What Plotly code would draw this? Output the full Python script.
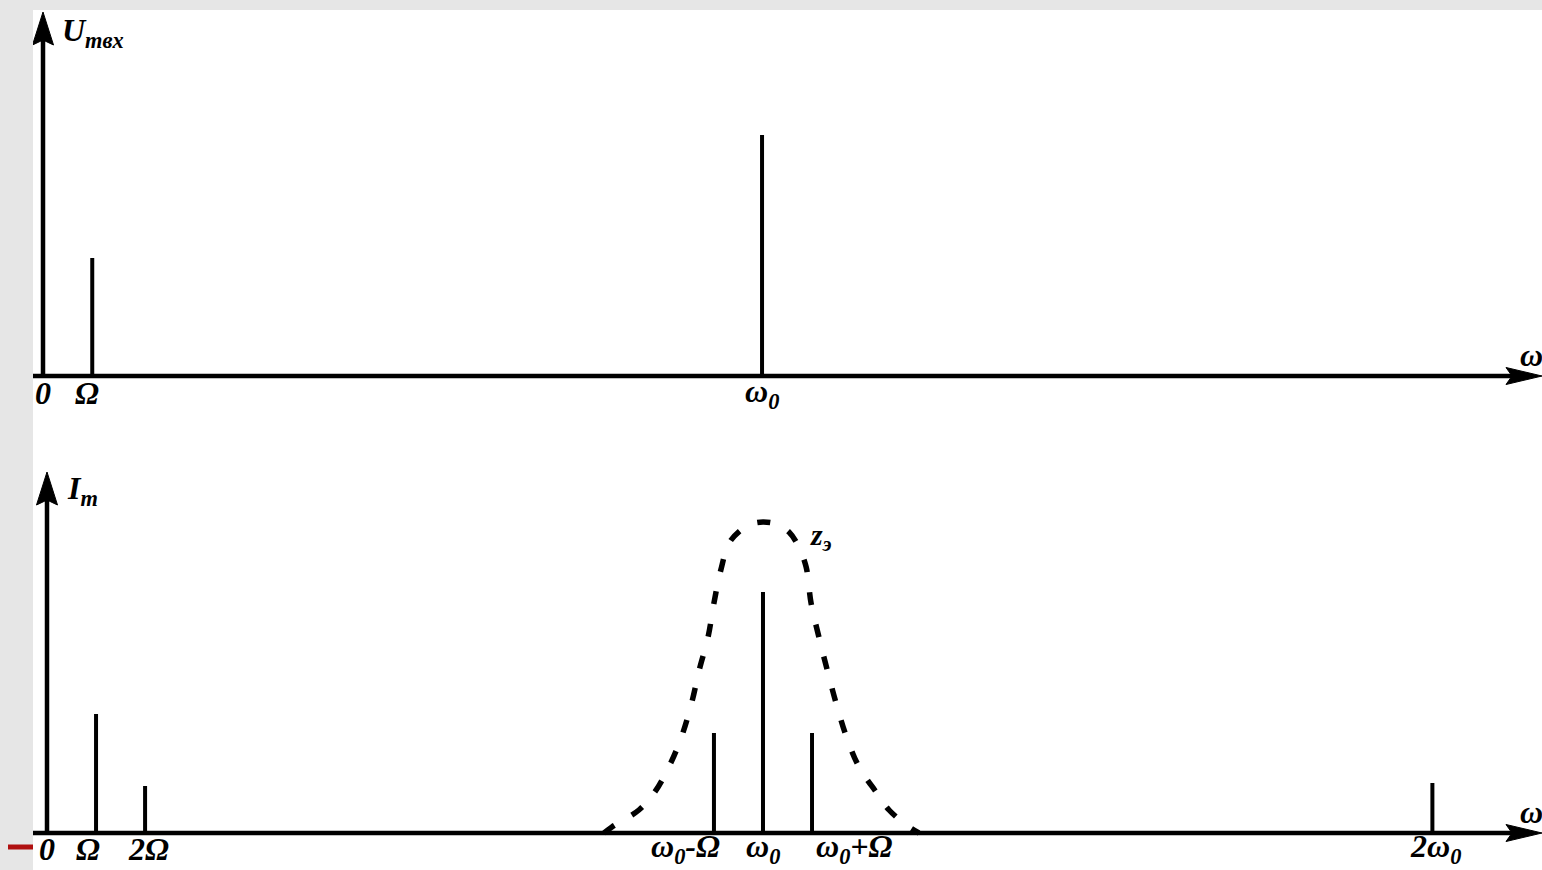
import plotly.graph_objects as go

# ---------------------------------------------------------------------------
# Data (frequencies in units of the modulating frequency Ω, amplitudes in
# arbitrary units)
# ---------------------------------------------------------------------------

# Input voltage spectrum U_mвx
top_freqs = [1.0, 14.6]                 # Ω, ω0
top_amps = [1.18, 2.41]
top_label_pos = [0.0, 1.0, 14.6]
top_labels = ["0", "Ω", "ω<sub>0</sub>"]

# Output current spectrum I_m
bot_freqs = [1.0, 2.0, 13.6, 14.6, 15.6, 28.25]   # Ω, 2Ω, ω0-Ω, ω0, ω0+Ω, 2ω0
bot_amps = [1.19, 0.47, 1.00, 2.41, 1.00, 0.50]
bot_label_pos = [0.0, 1.0, 2.0, 13.6, 14.6, 15.6, 28.25]
bot_labels = ["0", "Ω", "2Ω", "ω<sub>0</sub>-Ω", "ω<sub>0</sub>",
              "ω<sub>0</sub>+Ω", "2ω<sub>0</sub>"]

# Resonance curve of the tank circuit z_э(ω)
curve_w = [11.36, 11.52, 12.07, 12.38, 12.68, 12.93, 13.15, 13.30, 13.48,
           13.60, 13.74, 13.91, 14.15, 14.36, 14.60, 14.87, 15.13, 15.33,
           15.48, 15.58, 15.74, 15.91, 16.09, 16.31, 16.56, 16.92, 17.17,
           17.58, 17.78]
curve_z = [0.00, 0.06, 0.23, 0.40, 0.66, 0.95, 1.31, 1.63, 1.96,
           2.30, 2.63, 2.90, 3.03, 3.09, 3.11, 3.09, 3.01, 2.86,
           2.66, 2.30, 1.96, 1.63, 1.30, 0.95, 0.66, 0.40, 0.23,
           0.06, 0.00]

# ---------------------------------------------------------------------------
# Geometry
# ---------------------------------------------------------------------------
W, H = 1542, 870
PX0, PY_TOP = 33, 10                   # white drawing area starts here
AREA_W, AREA_H = W - PX0, H - PY_TOP

top_xr = [-0.203, 30.437]
top_yr = [-4.94, 3.66]
bot_xr = [-0.2855, 30.485]
bot_yr = [-0.37, 8.23]

FONT = "Liberation Serif, Times New Roman, serif"
INK = "black"


def stems(freqs, amps):
    xs, ys = [], []
    for f, a in zip(freqs, amps):
        xs += [f, f, None]
        ys += [0, a, None]
    return xs, ys


def axis_shapes(xref, yref, xr, yr, v_tip):
    """Arrowed abscissa and ordinate drawn in the panel's own data units."""
    ux = (xr[1] - xr[0]) / AREA_W
    uy = (yr[1] - yr[0]) / AREA_H
    h_tip = xr[1]
    shp = []
    # horizontal axis
    shp.append(dict(type="line", xref=xref, yref=yref, x0=xr[0], x1=h_tip - 28 * ux,
                    y0=0, y1=0, line=dict(color=INK, width=4.5)))
    shp.append(dict(type="path", xref=xref, yref=yref, fillcolor=INK,
                    line=dict(color=INK, width=1),
                    path=(f"M{h_tip},0 L{h_tip - 36 * ux},{8.5 * uy} "
                          f"L{h_tip - 30 * ux},0 L{h_tip - 36 * ux},{-8.5 * uy} Z")))
    # vertical axis
    shp.append(dict(type="line", xref=xref, yref=yref, x0=0, x1=0,
                    y0=-2 * uy, y1=v_tip - 26 * uy, line=dict(color=INK, width=4.5)))
    shp.append(dict(type="path", xref=xref, yref=yref, fillcolor=INK,
                    line=dict(color=INK, width=1),
                    path=(f"M0,{v_tip} L{10.5 * ux},{v_tip - 33 * uy} "
                          f"L0,{v_tip - 28 * uy} L{-10.5 * ux},{v_tip - 33 * uy} Z")))
    return shp


def txt(s):
    return f"<b><i>{s}</i></b>"


fig = go.Figure()

tx, ty = stems(top_freqs, top_amps)
fig.add_trace(go.Scatter(x=tx, y=ty, mode="lines", xaxis="x", yaxis="y",
                         line=dict(color=INK, width=4), hoverinfo="skip"))

bx, by = stems(bot_freqs, bot_amps)
fig.add_trace(go.Scatter(x=bx, y=by, mode="lines", xaxis="x2", yaxis="y2",
                         line=dict(color=INK, width=4), hoverinfo="skip"))

fig.add_trace(go.Scatter(x=curve_w, y=curve_z, mode="lines", xaxis="x2", yaxis="y2",
                         line=dict(color=INK, width=5.5, dash="13px,20px", shape="spline"),
                         hoverinfo="skip"))

shapes = []
shapes += axis_shapes("x", "y", top_xr, top_yr, 3.64)
shapes += axis_shapes("x2", "y2", bot_xr, bot_yr, 3.61)
# small red marker at the left edge
shapes.append(dict(type="line", xref="paper", yref="paper",
                   x0=8 / W, x1=PX0 / W, y0=(H - 847) / H, y1=(H - 847) / H,
                   line=dict(color="#b01010", width=5)))

annotations = []
lab_font = dict(family=FONT, size=32, color=INK)

# top tick labels
top_shift = [0, -5, 0]
for p, s, dx in zip(top_label_pos, top_labels, top_shift):
    annotations.append(dict(x=p, y=-0.17, xref="x", yref="y", text=txt(s),
                            showarrow=False, xanchor="center", yanchor="middle",
                            xshift=dx, font=lab_font))

# bottom tick labels
bot_anchor = ["center", "center", "center", "right", "center", "left", "center"]
bot_shift = [0, -8, 3, 8, 0, 2, 3]
for p, s, a, dx in zip(bot_label_pos, bot_labels, bot_anchor, bot_shift):
    annotations.append(dict(x=p, y=-0.155, xref="x2", yref="y2", text=txt(s),
                            showarrow=False, xanchor=a, yanchor="middle",
                            xshift=dx, font=lab_font))

# axis names
annotations.append(dict(x=0.345, y=3.43, xref="x", yref="y", text=txt("U<sub>mвx</sub>"),
                        showarrow=False, xanchor="left", yanchor="middle", font=lab_font))
annotations.append(dict(x=0.367, y=3.43, xref="x2", yref="y2", text=txt("I<sub>m</sub>"),
                        showarrow=False, xanchor="left", yanchor="middle", font=lab_font))
annotations.append(dict(x=15.52, y=2.96, xref="x2", yref="y2", text=txt("z<sub>э</sub>"),
                        showarrow=False, xanchor="left", yanchor="middle",
                        font=dict(family=FONT, size=30, color=INK)))
for yy in (355, 812):
    annotations.append(dict(x=1518 / W, y=(H - yy) / H, xref="paper", yref="paper",
                            text=txt("ω"), showarrow=False, xanchor="left",
                            yanchor="middle", font=lab_font))

hidden = dict(visible=False, fixedrange=True)
fig.update_layout(
    width=W, height=H,
    margin=dict(l=0, r=0, t=0, b=0),
    paper_bgcolor="#e6e6e6",
    plot_bgcolor="white",
    showlegend=False,
    xaxis=dict(domain=[PX0 / W, 1], range=top_xr, **hidden),
    yaxis=dict(domain=[0, AREA_H / H], range=top_yr, **hidden),
    xaxis2=dict(domain=[PX0 / W, 1], range=bot_xr, overlaying="x", anchor="y2", **hidden),
    yaxis2=dict(domain=[0, AREA_H / H], range=bot_yr, overlaying="y", anchor="x2", **hidden),
    shapes=shapes,
    annotations=annotations,
)

fig.write_html("out.html", config={"displayModeBar": False})
